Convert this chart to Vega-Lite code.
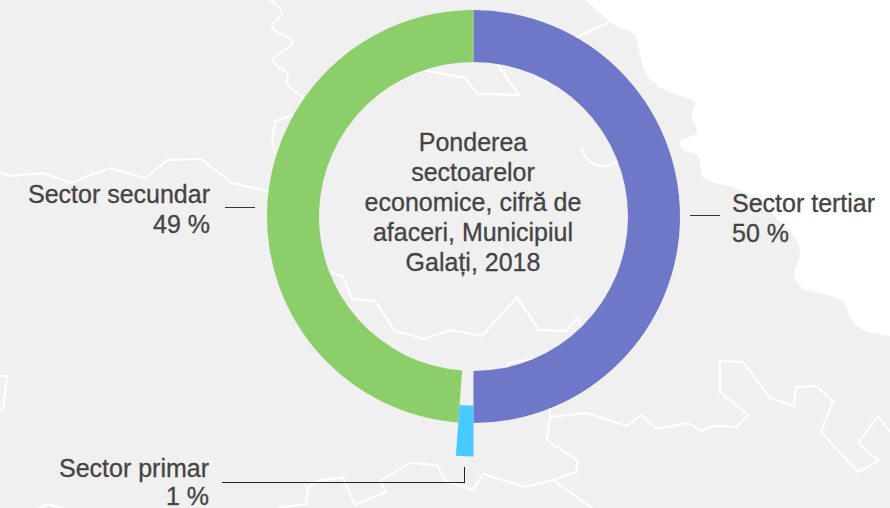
{"$schema":"https://vega.github.io/schema/vega-lite/v6.json","width":890,"height":508,"autosize":{"type":"none"},"padding":0,"background":"#f0f0f0","view":{"stroke":null,"fill":null},
"config":{"text":{"font":"Liberation Sans"}},
"datasets":{
"sectors":[{"sector":"Sector tertiar","rank":1,"share":50,"label":"Sector tertiar\n50 %"},{"sector":"Sector primar","rank":2,"share":1.17,"label":"Sector primar\n1 %"},{"sector":"Sector secundar","rank":3,"share":48.83,"label":"Sector secundar\n49 %"}],
"coast":[{"x":585,"y":0},{"x":602,"y":15},{"x":612,"y":24},{"x":635,"y":35},{"x":640,"y":55},{"x":648,"y":77},{"x":665,"y":90},{"x":695,"y":103},{"x":692,"y":117},{"x":698,"y":132},{"x":680,"y":142},{"x":683,"y":150},{"x":698,"y":155},{"x":702,"y":175},{"x":712,"y":182},{"x":732,"y":187},{"x":745,"y":192},{"x":778,"y":220},{"x":798,"y":243},{"x":800,"y":254},{"x":794,"y":274},{"x":803,"y":289},{"x":825,"y":294},{"x":845,"y":304},{"x":850,"y":317},{"x":865,"y":331},{"x":890,"y":336}],
"lines":[
{"s":"A","i":8,"x":303,"y":97},{"s":"A","i":9,"x":310,"y":107},{"s":"A","i":10,"x":308,"y":117},{"s":"A","i":11,"x":322,"y":125},{"s":"A","i":12,"x":300,"y":132},{"s":"A","i":13,"x":293,"y":115},
{"s":"B","i":0,"x":293,"y":115},{"s":"B","i":1,"x":275,"y":121},{"s":"B","i":2,"x":272,"y":143},{"s":"B","i":3,"x":277,"y":157},{"s":"B","i":4,"x":287,"y":180},{"s":"B","i":5,"x":288,"y":197},{"s":"B","i":6,"x":284,"y":207},{"s":"B","i":7,"x":300,"y":240},{"s":"B","i":8,"x":297,"y":262},{"s":"B","i":9,"x":313,"y":269},{"s":"B","i":10,"x":328,"y":272},{"s":"B","i":11,"x":343,"y":276},{"s":"B","i":12,"x":352,"y":299},{"s":"B","i":13,"x":375,"y":301},{"s":"B","i":14,"x":395,"y":331},{"s":"B","i":15,"x":424,"y":339},{"s":"B","i":16,"x":452,"y":330},{"s":"B","i":17,"x":482,"y":336},{"s":"B","i":18,"x":517,"y":297},{"s":"B","i":19,"x":539,"y":330},{"s":"B","i":20,"x":566,"y":331},{"s":"B","i":21,"x":578,"y":318},{"s":"B","i":22,"x":583,"y":334},{"s":"B","i":23,"x":577,"y":352},{"s":"B","i":24,"x":508,"y":363},{"s":"B","i":25,"x":502,"y":387},{"s":"B","i":26,"x":550,"y":404},{"s":"B","i":27,"x":550,"y":417},{"s":"B","i":28,"x":547,"y":440},{"s":"B","i":29,"x":578,"y":461},{"s":"B","i":30,"x":576,"y":472},{"s":"B","i":31,"x":553,"y":480},{"s":"B","i":32,"x":592,"y":508},
{"s":"D","i":0,"x":322,"y":125},{"s":"D","i":1,"x":343,"y":80},{"s":"D","i":2,"x":367,"y":73},{"s":"D","i":3,"x":390,"y":82},{"s":"D","i":4,"x":423,"y":70},{"s":"D","i":5,"x":465,"y":78},{"s":"D","i":6,"x":478,"y":94},{"s":"D","i":7,"x":519,"y":95},{"s":"D","i":8,"x":498,"y":65},{"s":"D","i":9,"x":508,"y":50},{"s":"D","i":10,"x":562,"y":47},{"s":"D","i":11,"x":577,"y":37},{"s":"D","i":12,"x":608,"y":23},
{"s":"E","i":0,"x":0,"y":172},{"s":"E","i":1,"x":10,"y":176},{"s":"E","i":2,"x":43,"y":173},{"s":"E","i":3,"x":71,"y":183},{"s":"E","i":4,"x":109,"y":168},{"s":"E","i":5,"x":145,"y":178},{"s":"E","i":6,"x":168,"y":160},{"s":"E","i":7,"x":201,"y":159},{"s":"E","i":8,"x":232,"y":183},{"s":"E","i":9,"x":267,"y":191},{"s":"E","i":10,"x":288,"y":197},
{"s":"F","i":0,"x":0,"y":376},{"s":"F","i":1,"x":7,"y":376},{"s":"F","i":2,"x":3,"y":410},{"s":"F","i":3,"x":0,"y":410},
{"s":"G","i":0,"x":553,"y":480},{"s":"G","i":1,"x":525,"y":487},{"s":"G","i":2,"x":483,"y":474},{"s":"G","i":3,"x":473,"y":490},{"s":"G","i":4,"x":445,"y":481},{"s":"G","i":5,"x":437,"y":465},{"s":"G","i":6,"x":410,"y":463},{"s":"G","i":7,"x":380,"y":481},{"s":"G","i":8,"x":386,"y":492},{"s":"G","i":9,"x":355,"y":505},{"s":"G","i":10,"x":343,"y":477},{"s":"G","i":11,"x":317,"y":481},{"s":"G","i":12,"x":308,"y":487},{"s":"G","i":13,"x":306,"y":504},{"s":"G","i":14,"x":277,"y":508},
{"s":"H","i":0,"x":38,"y":508},{"s":"H","i":1,"x":48,"y":504},{"s":"H","i":2,"x":63,"y":508},
{"s":"J","i":0,"x":550,"y":417},{"s":"J","i":1,"x":587,"y":413},{"s":"J","i":2,"x":627,"y":426},{"s":"J","i":3,"x":641,"y":415},{"s":"J","i":4,"x":657,"y":429},{"s":"J","i":5,"x":688,"y":423},{"s":"J","i":6,"x":702,"y":431},{"s":"J","i":7,"x":713,"y":426},{"s":"J","i":8,"x":737,"y":427},{"s":"J","i":9,"x":748,"y":415},{"s":"J","i":10,"x":720,"y":392},{"s":"J","i":11,"x":720,"y":361},{"s":"J","i":12,"x":743,"y":362},{"s":"J","i":13,"x":770,"y":398},{"s":"J","i":14,"x":794,"y":406},{"s":"J","i":15,"x":796,"y":387},{"s":"J","i":16,"x":816,"y":386},{"s":"J","i":17,"x":833,"y":401},{"s":"J","i":18,"x":821,"y":432},{"s":"J","i":19,"x":858,"y":472},{"s":"J","i":20,"x":879,"y":461},{"s":"J","i":21,"x":858,"y":443},{"s":"J","i":22,"x":878,"y":416},{"s":"J","i":23,"x":890,"y":432}
],
"curves":[{"s":"A","i":0,"x":270,"y":0},{"s":"A","i":1,"x":282,"y":13},{"s":"A","i":2,"x":272,"y":25},{"s":"A","i":3,"x":277,"y":32},{"s":"A","i":4,"x":293,"y":42},{"s":"A","i":5,"x":273,"y":60},{"s":"A","i":6,"x":287,"y":73},{"s":"A","i":7,"x":288,"y":85},{"s":"A","i":8,"x":303,"y":97},{"s":"C","i":0,"x":581,"y":147},{"s":"C","i":1,"x":588,"y":160},{"s":"C","i":2,"x":602,"y":166},{"s":"C","i":3,"x":617,"y":162},{"s":"C","i":4,"x":627,"y":147}]
},
"layer":[
{"data":{"name":"coast"},"mark":{"type":"area","orient":"horizontal","color":"#ffffff","interpolate":"monotone"},"encoding":{"y":{"field":"y","type":"quantitative","scale":{"domain":[508,0],"nice":false,"zero":false},"axis":null},"x":{"field":"x","type":"quantitative","stack":null,"scale":{"domain":[0,890],"nice":false,"zero":false},"axis":null},"x2":{"datum":890}}},
{"data":{"name":"lines"},"mark":{"type":"line","color":"#ffffff","strokeWidth":2},"encoding":{"x":{"field":"x","type":"quantitative"},"y":{"field":"y","type":"quantitative"},"detail":{"field":"s"},"order":{"field":"i"}}},
{"data":{"name":"curves"},"mark":{"type":"line","color":"#ffffff","strokeWidth":2,"interpolate":"cardinal"},"encoding":{"x":{"field":"x","type":"quantitative"},"y":{"field":"y","type":"quantitative"},"detail":{"field":"s"},"order":{"field":"i"}}},
{"data":{"name":"sectors"},"transform":[{"stack":"share","groupby":[],"sort":[{"field":"rank"}],"as":["s0","s1"]},{"filter":"datum.rank!=2"}],"mark":{"type":"arc","radius":206.5,"radius2":154.5,"opacity":0.97},"encoding":{"x":{"datum":473.5},"y":{"datum":216.5},"theta":{"field":"s0","type":"quantitative","scale":{"domain":[0,100],"range":[0,6.2832]}},"theta2":{"field":"s1"},"color":{"field":"sector","type":"nominal","legend":null,"scale":{"domain":["Sector tertiar","Sector primar","Sector secundar"],"range":["#6a73c7","#48c9ff","#88cd65"]}}}},
{"data":{"name":"sectors"},"transform":[{"stack":"share","groupby":[],"sort":[{"field":"rank"}],"as":["s0","s1"]},{"filter":"datum.rank==2"}],"mark":{"type":"arc","radius":240,"radius2":189},"encoding":{"x":{"datum":473.5},"y":{"datum":216.5},"theta":{"field":"s0","type":"quantitative","scale":{"domain":[0,100],"range":[0,6.2832]}},"theta2":{"field":"s1"},"color":{"field":"sector","type":"nominal","legend":null}}},
{"mark":{"type":"rule","color":"#333333","strokeWidth":1},"data":{"values":[{"a":1}]},"encoding":{"x":{"datum":225},"x2":{"datum":255},"y":{"datum":207.5}}},
{"mark":{"type":"rule","color":"#333333","strokeWidth":1},"data":{"values":[{"a":1}]},"encoding":{"x":{"datum":690},"x2":{"datum":720},"y":{"datum":215.5}}},
{"mark":{"type":"rule","color":"#222222","strokeWidth":1},"data":{"values":[{"a":1}]},"encoding":{"x":{"datum":222},"x2":{"datum":465},"y":{"datum":482.5}}},
{"mark":{"type":"rule","color":"#222222","strokeWidth":1},"data":{"values":[{"a":1}]},"encoding":{"x":{"datum":464.5},"y":{"datum":467},"y2":{"datum":482.5}}},
{"data":{"name":"sectors"},"transform":[{"filter":"datum.rank==3"}],"mark":{"type":"text","align":"right","baseline":"alphabetic","fontSize":25,"lineBreak":"\n","lineHeight":30,"color":"#444444","stroke":"#444444","strokeWidth":0.3},"encoding":{"x":{"datum":210},"y":{"datum":203},"text":{"field":"label"}}},
{"data":{"name":"sectors"},"transform":[{"filter":"datum.rank==1"}],"mark":{"type":"text","align":"left","baseline":"alphabetic","fontSize":25,"lineBreak":"\n","lineHeight":30,"color":"#444444","stroke":"#444444","strokeWidth":0.3},"encoding":{"x":{"datum":732},"y":{"datum":212},"text":{"field":"label"}}},
{"data":{"name":"sectors"},"transform":[{"filter":"datum.rank==2"}],"mark":{"type":"text","align":"right","baseline":"alphabetic","fontSize":25,"lineBreak":"\n","lineHeight":28,"color":"#444444","stroke":"#444444","strokeWidth":0.3},"encoding":{"x":{"datum":209},"y":{"datum":477},"text":{"field":"label"}}},
{"data":{"values":[{"title":"Ponderea\nsectoarelor\neconomice, cifră de\nafaceri, Municipiul\nGalați, 2018"}]},"mark":{"type":"text","align":"center","baseline":"alphabetic","fontSize":25,"lineBreak":"\n","lineHeight":30,"color":"#444444","stroke":"#444444","strokeWidth":0.3},"encoding":{"x":{"datum":473},"y":{"datum":151},"text":{"field":"title"}}}
]}
